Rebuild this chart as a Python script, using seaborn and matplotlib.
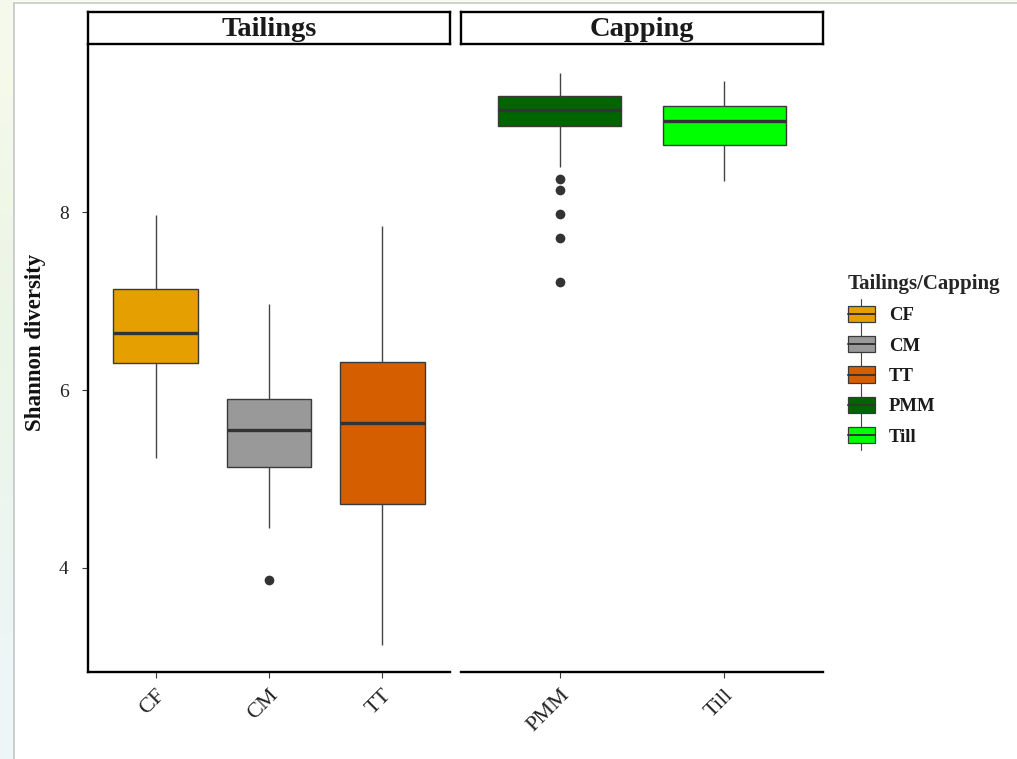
import numpy as np
import pandas as pd
import matplotlib
matplotlib.use("Agg")
import matplotlib.pyplot as plt
from matplotlib.patches import Rectangle
from matplotlib.lines import Line2D
from matplotlib.legend_handler import HandlerBase
import seaborn as sns

# ---- summary values of Shannon diversity per material ----
tailings_groups = ["CF", "CM", "TT"]
capping_groups = ["PMM", "Till"]

whisker_low = {"CF": 5.24, "CM": 4.45, "TT": 3.13, "PMM": 8.51, "Till": 8.35}
q1 = {"CF": 6.30, "CM": 5.14, "TT": 4.72, "PMM": 8.97, "Till": 8.75}
median = {"CF": 6.64, "CM": 5.55, "TT": 5.63, "PMM": 9.15, "Till": 9.02}
q3 = {"CF": 7.14, "CM": 5.90, "TT": 6.32, "PMM": 9.31, "Till": 9.19}
whisker_high = {"CF": 7.97, "CM": 6.97, "TT": 7.85, "PMM": 9.56, "Till": 9.48}

outliers = {"CM": [3.87], "PMM": [8.37, 8.25, 7.98, 7.71, 7.22]}

colors = {"CF": "#E69F00", "CM": "#999999", "TT": "#D55E00",
          "PMM": "#006400", "Till": "#00FF00"}

y_ticks = [4, 6, 8]
y_limits = (2.83, 9.88)

# five-number rows per group (quartiles fall exactly on q1/median/q3)
rows = []
for g in tailings_groups + capping_groups:
    for v in (whisker_low[g], q1[g], median[g], q3[g], whisker_high[g]):
        rows.append({"group": g, "value": v})
box_df = pd.DataFrame(rows)
out_df = pd.DataFrame([{"group": g, "value": v}
                       for g, vals in outliers.items() for v in vals])

sns.set_theme(style="white")
plt.rcParams["font.family"] = ["Liberation Serif", "DejaVu Serif"]

W, H = 1017, 759
fig = plt.figure(figsize=(W / 100, H / 100), dpi=100)
fig.patch.set_facecolor("white")


def fx(px):
    return px / W


def fy(py):
    return 1 - py / H


# page edge tint on the left and top
grad = np.array([[0.965, 0.980, 0.925],
                 [0.918, 0.961, 0.894],
                 [0.925, 0.961, 0.925],
                 [0.933, 0.961, 0.973]])
bg = fig.add_axes([0, 0, fx(14), 1], zorder=-5)
bg.imshow(grad.reshape(4, 1, 3), aspect="auto", interpolation="bicubic",
          extent=(0, 1, 0, 1))
bg.set_axis_off()
fig.patches.append(Rectangle((fx(14), fy(3)), 1, 3 / H, transform=fig.transFigure,
                             facecolor="#f8fbf1", edgecolor="none", zorder=-5))
fig.lines.append(Line2D([fx(14), 1], [fy(3), fy(3)], transform=fig.transFigure,
                        color="#c9cbc4", lw=1.2))
fig.lines.append(Line2D([fx(14), fx(14)], [0, fy(3)], transform=fig.transFigure,
                        color="#c4c6c8", lw=1.2))

panel_top, panel_bottom = 45, 672
strip_top, strip_bottom = 12, 44
panels = [("Tailings", tailings_groups, 88, 450),
          ("Capping", capping_groups, 461, 823)]

edge = "#3a3a3a"
axes = []
for i, (title, groups, x0, x1) in enumerate(panels):
    ax = fig.add_axes([fx(x0), fy(panel_bottom), (x1 - x0) / W,
                       (panel_bottom - panel_top) / H])
    sub = box_df[box_df["group"].isin(groups)]
    sns.boxplot(data=sub, x="group", y="value", hue="group", order=groups,
                hue_order=groups, palette=colors, saturation=1,
                whis=(0, 100), width=0.75,
                linecolor=edge, linewidth=1.0, showcaps=False, legend=False,
                medianprops={"color": "#333333", "linewidth": 2.4},
                whiskerprops={"color": "#444444", "linewidth": 1.0},
                ax=ax)
    osub = out_df[out_df["group"].isin(groups)]
    if len(osub):
        sns.stripplot(data=osub, x="group", y="value", order=groups,
                      jitter=False, color="#333333", size=7, ax=ax,
                      native_scale=False)
    ax.set_xlim(-0.6, len(groups) - 0.4)
    ax.set_ylim(*y_limits)
    ax.set_xlabel("")
    ax.set_ylabel("")
    ax.set_facecolor("white")
    for s in ("top", "right"):
        ax.spines[s].set_visible(False)
    ax.spines["bottom"].set_color("black")
    ax.spines["bottom"].set_linewidth(1.7)
    ax.tick_params(axis="x", bottom=True, length=4, width=0.8, color=edge,
                   pad=6, labelsize=16, labelcolor="#222222")
    for lbl in ax.get_xticklabels():
        lbl.set_rotation(45)
        lbl.set_ha("right")
        lbl.set_va("top")
        lbl.set_rotation_mode("anchor")
    if i == 0:
        ax.spines["left"].set_color("black")
        ax.spines["left"].set_linewidth(1.7)
        ax.set_yticks(y_ticks)
        ax.tick_params(axis="y", left=True, length=4, width=0.8, color=edge,
                       pad=10, labelsize=14, labelcolor="#222222")
    else:
        ax.spines["left"].set_visible(False)
        ax.tick_params(axis="y", left=False, labelleft=False)
    ax.grid(False)
    axes.append(ax)

    # facet strip
    sax = fig.add_axes([fx(x0), fy(strip_bottom), (x1 - x0) / W,
                        (strip_bottom - strip_top) / H])
    sax.set_xticks([])
    sax.set_yticks([])
    sax.set_facecolor("white")
    for s in sax.spines.values():
        s.set_visible(True)
        s.set_color("black")
        s.set_linewidth(1.7)
    sax.text(0.5, 0.45, title, ha="center", va="center", fontsize=20.5,
             fontweight="bold", color="#1a1a1a", transform=sax.transAxes)

fig.text(fx(36), fy(342), "Shannon diversity", rotation=90, ha="center",
         va="center", fontsize=16.5, fontweight="bold", color="#111111")


class BoxKey(HandlerBase):
    def create_artists(self, legend, orig_handle, xdescent, ydescent, width,
                       height, fontsize, trans):
        fc = orig_handle.get_facecolor()
        cx = width / 2 - xdescent
        bh = height * 0.95
        by = -ydescent + (height - bh) / 2
        whisk = Line2D([cx, cx], [by - 5, by + bh + 5], color="#444444",
                       lw=0.8, transform=trans)
        rect = Rectangle((-xdescent, by), width, bh, facecolor=fc,
                         edgecolor=edge, lw=0.9, transform=trans)
        med = Line2D([-xdescent, width - xdescent],
                     [by + bh / 2, by + bh / 2], color="#333333", lw=1.4,
                     transform=trans)
        return [whisk, rect, med]


all_groups = tailings_groups + capping_groups
handles = [Rectangle((0, 0), 1, 1, facecolor=colors[g]) for g in all_groups]
leg = fig.legend(handles, all_groups, title="Tailings/Capping",
                 loc="upper left", bbox_to_anchor=(fx(831), fy(257)),
                 frameon=False, handler_map={Rectangle: BoxKey()},
                 handlelength=1.45, handleheight=1.05, handletextpad=0.75,
                 labelspacing=0.6,
                 prop={"weight": "bold", "size": 13.5,
                       "family": "Liberation Serif"},
                 title_fontproperties={"weight": "bold", "size": 15,
                                       "family": "Liberation Serif"})
leg._legend_box.align = "left"
for t in leg.get_texts():
    t.set_color("#1a1a1a")

fig.savefig("out.png", dpi=100)
